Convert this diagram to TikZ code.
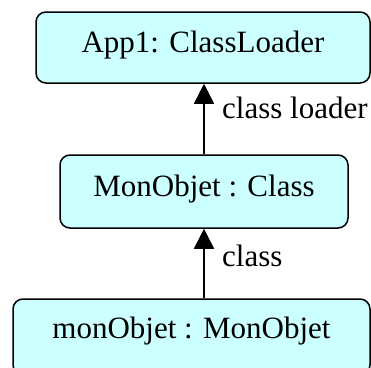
\documentclass[tikz,border=0pt]{standalone}
\usepackage{fontspec}
\setmainfont{Liberation Serif}
\usetikzlibrary{arrows.meta}
\definecolor{boxfill}{HTML}{CCFFFF}
\begin{document}
\begin{tikzpicture}[x=1pt,y=1pt,
  objbox/.style={draw=black, line width=1.5pt, fill=boxfill, rounded corners=10pt,
    inner sep=0pt, text height=21pt, text depth=11pt,
    font=\fontsize{31}{37}\selectfont},
  lbl/.style={anchor=base west, inner sep=0pt, font=\fontsize{31}{37}\selectfont},
  arr/.style={line width=1.5pt, -{Triangle[length=20pt,width=20pt]}}]
\useasboundingbox (0,0) rectangle (371,-367);
\node[objbox, minimum width=334pt, minimum height=71pt] (b1) at (203,-47.5) {App1: ClassLoader};
\node[objbox, minimum width=288pt, minimum height=73pt] (b2) at (204,-191.5) {MonObjet : Class};
\node[objbox, minimum width=357pt, minimum height=76pt, text depth=19pt] (b3) at (191.5,-337) {monObjet : MonObjet};
\draw[arr] (b2.north) -- (b2.north |- b1.south);
\draw[arr] (b3.north -| b2.south) -- (b2.south);
\node[lbl] (l1) at (222,-118) {class loader};
\node[lbl] (l2) at (222,-266) {class};
\end{tikzpicture}
\end{document}
